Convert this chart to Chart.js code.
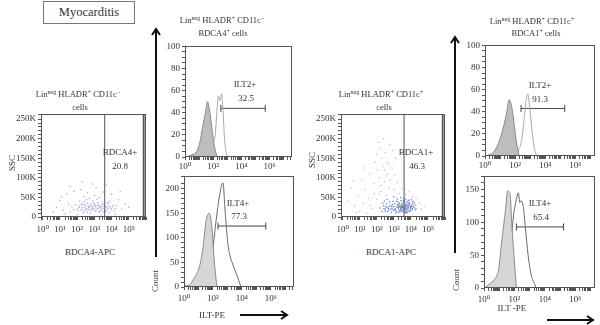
<!DOCTYPE html>
<html>
<head>
<meta charset="utf-8">
<script src="https://cdn.jsdelivr.net/npm/chart.js@4/dist/chart.umd.min.js"></script>
<style>
  body { margin: 0; background: #fff; }
  #fig { position: relative; width: 600px; height: 325px; overflow: hidden; background: #fff;
         font-family: 'Liberation Serif', 'DejaVu Serif', serif; color: #333; }
  .cv { position: absolute; }
  .t { position: absolute; white-space: nowrap; transform: translate(-50%, -50%);
       font-size: 9px; line-height: 1; color: #333; }
  .ttl { font-size: 8.5px; color: #333; will-change: transform; }
  .rot { transform: translate(-50%, -50%) rotate(-90deg); }
  sup { font-size: 6px; vertical-align: 3px; line-height: 0; color: #333; }
  #tag { position: absolute; left: 43px; top: 1px; width: 90px; height: 21px;
         border: 1px solid #777; font-size: 12.5px; text-align: center; line-height: 21px; }
</style>
</head>
<body>
<div id="fig">
  <div id="tag">Myocarditis</div>

  <div class="cv" id="w_bdca4"><canvas id="c_bdca4"></canvas></div>
  <div class="cv" id="w_bdca1"><canvas id="c_bdca1"></canvas></div>
  <div class="cv" id="w_m2"><canvas id="c_m2"></canvas></div>
  <div class="cv" id="w_m4"><canvas id="c_m4"></canvas></div>
  <div class="cv" id="w_r2"><canvas id="c_r2"></canvas></div>
  <div class="cv" id="w_r4"><canvas id="c_r4"></canvas></div>

  <!-- panel titles -->
  <div class="t ttl" style="left:78px;top:94px">Lin<sup>neg</sup> HLADR<sup>+</sup> CD11c<sup>−</sup></div>
  <div class="t ttl" style="left:80px;top:107px">cells</div>
  <div class="t ttl" style="left:381px;top:94px">Lin<sup>neg</sup> HLADR<sup>+</sup> CD11c<sup>+</sup></div>
  <div class="t ttl" style="left:384px;top:107px">cells</div>
  <div class="t ttl" style="left:222px;top:20px">Lin<sup>neg</sup> HLADR<sup>+</sup> CD11c<sup>−</sup></div>
  <div class="t ttl" style="left:223px;top:33px">BDCA4<sup>+</sup> cells</div>
  <div class="t ttl" style="left:532px;top:21px">Lin<sup>neg</sup> HLADR<sup>+</sup> CD11c<sup>+</sup></div>
  <div class="t ttl" style="left:536px;top:33px">BDCA1<sup>+</sup> cells</div>

  <!-- gate labels -->
  <div class="t" style="left:120px;top:152px">BDCA4+</div>
  <div class="t" style="left:120px;top:166px">20.8</div>
  <div class="t" style="left:416px;top:152px">BDCA1+</div>
  <div class="t" style="left:417px;top:166px">46.3</div>
  <div class="t" style="left:245px;top:84px">ILT2+</div>
  <div class="t" style="left:246px;top:98px">32.5</div>
  <div class="t" style="left:238px;top:203px">ILT4+</div>
  <div class="t" style="left:239px;top:216px">77.3</div>
  <div class="t" style="left:540px;top:85px">ILT2+</div>
  <div class="t" style="left:540px;top:99px">91.3</div>
  <div class="t" style="left:540px;top:203px">ILT4+</div>
  <div class="t" style="left:541px;top:217px">65.4</div>

  <!-- axis titles -->
  <div class="t rot" style="left:12px;top:163px">SSC</div>
  <div class="t rot" style="left:312px;top:160px">SSC</div>
  <div class="t" style="left:90px;top:252px">BDCA4-APC</div>
  <div class="t" style="left:391px;top:252px">BDCA1-APC</div>
  <div class="t rot" style="left:155px;top:281px">Count</div>
  <div class="t rot" style="left:456px;top:280px">Count</div>
  <div class="t" style="left:212px;top:315px">ILT-PE</div>
  <div class="t" style="left:512px;top:308px">ILT -PE</div>

  <svg width="600" height="325" style="position:absolute;left:0;top:0;pointer-events:none">
    <g stroke="#111" stroke-width="2" fill="none">
      <line x1="156" y1="257" x2="156" y2="30"/>
      <polyline points="152,35 156,29 160,35"/>
      <line x1="455" y1="253" x2="455" y2="38"/>
      <polyline points="451,43 455,37 459,43"/>
      <line x1="240" y1="315" x2="287" y2="315"/>
      <polyline points="281,311 287,315 281,319"/>
      <line x1="547" y1="320" x2="593" y2="320"/>
      <polyline points="587,316 593,320 587,324"/>
    </g>
  </svg>
</div>

<script>
// ---- DATA (x values are log10 of fluorescence, SSC in thousands) ----

// BDCA4-APC vs SSC events, Lin-neg HLADR+ CD11c- cells
const bdca4Events = [
  [2.0,22],[2.1,28],[2.2,18],[2.3,33],[2.3,25],[2.4,15],[2.4,38],[2.5,21],[2.5,29],[2.6,12],
  [2.6,35],[2.7,24],[2.7,19],[2.8,30],[2.8,16],[2.9,26],[2.9,41],[3.0,22],[3.0,33],[3.1,14],
  [3.1,28],[3.2,20],[3.2,37],[3.3,25],[3.3,11],[3.4,31],[3.4,18],[3.5,27],[3.5,22],[3.6,34],
  [3.7,24],[3.7,17],[3.8,29],[3.8,21],[3.9,26],[4.0,19],[4.1,30],[3.65,14],[3.75,37],[3.85,12],
  [1.9,31],[1.8,19],[1.7,26],[2.15,40],[2.35,10],[2.55,44],[2.65,27],[2.75,9],[2.85,21],[2.95,35],
  [3.05,17],[3.15,45],[3.25,29],[3.35,23],[3.45,39],[3.55,13],[2.05,16],[2.25,31],[2.45,24],[2.62,20],
  [2.78,33],[2.92,18],[3.08,26],[3.22,31],[3.38,16],[3.52,33],[3.68,27],[3.82,35],[3.95,23],[4.05,26],
  [4.2,21],[4.3,29],[4.15,15],[3.9,40],[2.7,48],[2.4,52],[3.0,55],[3.3,50],[1.6,13],[1.5,34],
  [2.12,24],[2.32,20],[2.52,17],[2.72,28],[2.88,23],[3.02,30],[3.18,22],[3.28,14],[3.42,26],[2.42,32],
  [1.2,18],[1.0,42],[0.8,24],[1.4,58],[1.8,66],[2.2,70],[2.6,62],[3.1,75],[3.5,64],[4.0,58],
  [4.4,44],[4.6,20],[4.8,33],[1.3,8],[2.0,6],[3.4,5],[4.2,7],[2.9,84],[2.3,90],[1.6,78],
  [3.7,82],[5.0,25],[0.6,12],[4.5,65],[1.1,52]
];

// BDCA1-APC vs SSC events, Lin-neg HLADR+ CD11c+ cells
const bdca1Events = [
  [2.9,22],[3.0,27],[3.1,18],[3.2,31],[3.3,24],[3.4,20],[3.5,28],[3.6,22],[3.7,26],[3.8,19],
  [3.9,30],[4.0,24],[3.05,34],[3.15,14],[3.25,38],[3.35,16],[3.45,33],[3.55,12],[3.65,36],[3.75,15],
  [3.85,34],[3.95,17],[4.05,31],[4.1,20],[2.8,30],[2.7,17],[2.6,25],[2.5,20],[2.4,29],[2.3,14],
  [2.2,23],[2.75,38],[2.85,12],[2.95,40],[3.12,10],[3.42,42],[3.62,41],[3.72,10],[3.88,43],[4.15,28],
  [4.2,36],[4.25,18],[3.52,17],[3.58,35],[3.68,18],[3.78,32],[3.48,24],[3.38,29],[3.28,19],[3.18,25],
  [3.08,21],[2.98,16],[2.88,26],[2.68,22],[2.58,33],[2.48,15],[3.66,28],[3.76,23],[3.86,25],[3.96,21],
  [4.06,27],[3.82,40],[3.92,37],[4.02,44],[4.12,40],[3.7,45],[3.6,48],[3.4,50],[3.2,46],[3.0,52],
  [2.6,45],[2.45,40],[2.35,35],[3.57,20],[3.63,25],[3.71,21],[3.74,29],[3.81,27],[3.67,32],[3.61,17],
  [3.69,13],[3.79,12],[3.89,14],[3.99,26],[4.08,22],[4.18,24],[4.28,30],[4.3,22],[3.22,28],[3.32,35],
  [3.36,13],[3.46,15],[3.54,38],[3.02,19],[2.92,31],[2.82,20],[2.72,27],[2.62,14],[2.52,26],[2.42,21],
  [3.9,33],[4.0,15],[4.1,35],[3.76,38],[3.84,20],[3.94,28],[3.64,11],[3.56,43],[3.16,40],[3.26,12]
];
const bdca1Hot = [
  [3.3,26],[3.4,23],[3.5,27],[3.45,21],[3.55,25],[3.35,29],[3.6,26],[3.25,23],[3.5,31],[3.42,18],
  [3.65,22],[3.3,32],[3.4,26],[3.48,24],[3.52,28],[3.45,25]
];
const bdca1Sparse = [
  [0.3,40],[0.5,75],[0.7,28],[0.9,55],[1.1,95],[1.2,35],[1.3,70],[1.5,48],[1.6,110],[1.7,22],
  [1.8,85],[1.9,140],[2.0,160],[2.05,120],[2.1,190],[2.15,100],[2.2,175],[2.25,65],[2.3,150],[2.35,130],
  [2.4,200],[2.45,90],[2.5,165],[2.55,55],[2.6,140],[2.65,110],[2.7,75],[2.75,185],[2.8,95],[2.9,125],
  [3.0,70],[3.1,150],[3.2,88],[3.3,60],[3.5,72],[3.7,58],[3.9,66],[4.1,52],[4.3,48],[4.5,35],
  [4.6,20],[4.8,28],[1.0,15],[1.4,10],[0.8,12],[2.0,45],[1.85,60],[2.25,80],[2.55,105],[2.95,170],
  [1.6,30],[2.7,135],[2.15,58],[1.25,125],[0.6,92],[2.45,120],[3.05,108]
];
const apcGate = [3.6, 5.85];        // gate borders (log10)

// ILT-PE histograms: [log10 ILT-PE, count]
const m2Iso  = [[0.1,0],[0.5,2],[0.83,5],[1.05,13],[1.24,26],[1.45,40],[1.6,50],[1.72,44],[1.87,30],[2.0,17],[2.15,6],[2.3,0]];
const m2Ilt  = [[0.2,0],[0.8,2],[1.3,6],[1.7,10],[2.0,13],[2.15,21],[2.28,44],[2.38,55],[2.48,51],[2.6,57],[2.7,42],[2.8,18],[2.9,6],[3.0,0]];
const m2Gate = [2.55, 5.7, 44];

const m4Iso  = [[0.1,0],[0.41,5],[0.62,14],[0.9,28],[1.1,45],[1.31,80],[1.52,134],[1.65,148],[1.74,150],[1.93,120],[2.07,60],[2.2,20],[2.28,0]];
const m4Ilt  = [[0.0,2],[0.6,4],[1.1,8],[1.45,15],[1.8,40],[2.0,80],[2.28,150],[2.48,190],[2.69,212],[2.85,150],[3.03,88],[3.17,65],[3.38,45],[3.6,28],[3.8,12],[3.93,0]];
const m4Gate = [2.35, 5.65, 124];

const r2Iso  = [[0.1,0],[0.65,5],[1.1,20],[1.42,38],[1.6,51],[1.75,46],[1.87,36],[2.06,15],[2.26,0]];
const r2Ilt  = [[1.5,0],[2.0,2],[2.26,6],[2.45,16],[2.6,34],[2.75,52],[2.84,56],[2.95,46],[3.1,26],[3.25,9],[3.42,0]];
const r2Gate = [2.39, 5.29, 43];

const r4Iso  = [[0.1,0],[0.19,3],[0.65,12],[0.97,30],[1.16,70],[1.42,120],[1.55,148],[1.65,146],[1.74,138],[1.82,100],[2.0,40],[2.13,0]];
const r4Ilt  = [[0.3,2],[0.97,10],[1.42,25],[1.74,60],[1.94,110],[2.13,135],[2.26,145],[2.36,130],[2.45,133],[2.58,124],[2.71,95],[2.9,50],[3.1,20],[3.35,5],[3.42,0]];
const r4Gate = [2.13, 5.23, 93];

// ---- helpers ----
const FONT = { family: "'Liberation Serif', 'DejaVu Serif', serif", size: 9 };
const INK = '#333';
const SUP = '⁰¹²³⁴⁵⁶⁷⁸⁹';
const pts = arr => arr.map(p => ({ x: p[0], y: p[1] }));

// decade + minor tick positions on a log10 axis
function logTicks(min, max) {
  const out = [];
  for (let n = Math.floor(min); n <= Math.ceil(max); n++) {
    for (let k = 1; k <= 9; k++) {
      const v = n + Math.log10(k);
      if (v >= min - 1e-9 && v <= max + 1e-9) out.push({ value: v });
    }
  }
  return out;
}

// put the wrapper so the chart area lands on the given box
function place(id, area, yw, xh, padTop, padRight) {
  const d = document.getElementById(id);
  d.style.left = (area[0] - yw) + 'px';
  d.style.top = (area[1] - padTop) + 'px';
  d.style.width = (yw + area[2] - area[0] + padRight) + 'px';
  d.style.height = (padTop + area[3] - area[1] + xh) + 'px';
}

const framePlugin = {
  id: 'frame',
  afterDraw(chart) {
    const a = chart.chartArea, ctx = chart.ctx;
    ctx.save();
    ctx.strokeStyle = '#555';
    ctx.lineWidth = 1;
    ctx.strokeRect(Math.round(a.left) + 0.5, Math.round(a.top) + 0.5,
                   Math.round(a.right - a.left) - 1, Math.round(a.bottom - a.top) - 1);
    ctx.restore();
  }
};

function xLogAxis(min, max, labelled, xh, pad) {
  return {
    type: 'linear', min, max,
    afterBuildTicks: s => { s.ticks = logTicks(min, max); },
    afterFit: s => { s.height = xh; },
    border: { display: false },
    grid: { drawOnChartArea: false, tickLength: 3, color: '#555' },
    ticks: {
      autoSkip: false, maxRotation: 0, padding: pad, font: FONT, color: INK,
      callback: v => {
        const r = Math.round(v);
        return Math.abs(v - r) < 1e-6 && labelled.includes(r) ? '10' + SUP[r] : '';
      }
    }
  };
}

function yAxis(max, step, major, yw, fmt) {
  return {
    min: 0, max,
    afterFit: s => { s.width = yw; },
    border: { display: false },
    grid: { drawOnChartArea: false, tickLength: 3, color: '#555' },
    ticks: {
      stepSize: step, autoSkip: false, padding: 2, font: FONT, color: INK,
      callback: v => (v % major === 0 ? fmt(v) : '')
    }
  };
}

const baseOpts = {
  responsive: true, maintainAspectRatio: false, animation: false,
  plugins: { legend: { display: false }, tooltip: { enabled: false } }
};

function gateSets(g) {
  return [{
    data: [{ x: g[0], y: g[2] }, { x: g[1], y: g[2] }],
    showLine: true, borderColor: '#444', borderWidth: 1,
    pointStyle: 'line', rotation: 90, pointRadius: 3.5,
    pointBorderColor: '#444', pointBorderWidth: 1
  }];
}

// ---- histograms ----
function histogram(key, area, xmax, ymax, step, major, iso, ilt, gate, isoFill, iltColor, xPad) {
  place('w_' + key, area, 25, 14, 6, 2);
  new Chart(document.getElementById('c_' + key), {
    type: 'scatter',
    data: {
      datasets: [
        { data: pts(iso), showLine: true, fill: 'origin', backgroundColor: isoFill,
          borderColor: '#8a8a8a', borderWidth: 1, pointRadius: 0, cubicInterpolationMode: 'monotone' },
        { data: pts(ilt), showLine: true, fill: false, borderColor: iltColor,
          borderWidth: 1, pointRadius: 0, cubicInterpolationMode: 'monotone' },
        ...gateSets(gate)
      ]
    },
    options: {
      ...baseOpts,
      layout: { padding: { top: 6, right: 2 } },
      scales: {
        x: xLogAxis(0, xmax, [0, 2, 4, 6], 14, xPad),
        y: yAxis(ymax, step, major, 25, v => String(v))
      }
    },
    plugins: [framePlugin]
  });
}

histogram('m2', [185, 45, 295, 157], 7.6, 100, 5, 20, m2Iso, m2Ilt, m2Gate, '#bdbdbd', '#a8a8a8', 1);
histogram('m4', [184, 175, 297, 287], 7.6, 225, 10, 50, m4Iso, m4Ilt, m4Gate, '#d6d6d6', '#6a6a6a', 3);
histogram('r2', [485, 44, 598, 156], 7.3, 100, 5, 20, r2Iso, r2Ilt, r2Gate, '#bdbdbd', '#a8a8a8', 1);
histogram('r4', [484, 175, 598, 288], 7.3, 170, 10, 50, r4Iso, r4Ilt, r4Gate, '#d6d6d6', '#6a6a6a', 3);

// ---- dot plots ----
function dotPlot(key, area, layers) {
  place('w_' + key, area, 41, 22, 6, 3);
  const g = apcGate;
  new Chart(document.getElementById('c_' + key), {
    type: 'scatter',
    data: {
      datasets: [
        ...layers.map(l => ({ data: pts(l[0]), backgroundColor: l[1], borderWidth: 0, pointRadius: 0.75 })),
        { data: [{ x: g[0], y: 0 }, { x: g[0], y: 262 }, { x: g[1], y: 262 }, { x: g[1], y: 0 }],
          showLine: true, borderColor: '#555', borderWidth: 1, pointRadius: 0 },
        { data: [{ x: 5.93, y: 0 }, { x: 5.93, y: 262 }],
          showLine: true, borderColor: '#999', borderWidth: 3, pointRadius: 0 }
      ]
    },
    options: {
      ...baseOpts,
      layout: { padding: { top: 6, right: 3 } },
      scales: {
        x: xLogAxis(-0.1, 6.0, [0, 1, 2, 3, 4, 5], 22, 4),
        y: yAxis(262, 10, 50, 41, v => (v === 0 ? '0' : v + 'K'))
      }
    },
    plugins: [framePlugin]
  });
}

dotPlot('bdca4', [41, 113, 147, 217], [
  [bdca4Events, 'rgba(120,120,210,0.65)']
]);
dotPlot('bdca1', [341, 113, 446, 217], [
  [bdca1Sparse, 'rgba(130,130,215,0.55)'],
  [bdca1Events, 'rgba(70,90,200,0.8)'],
  [bdca1Hot, 'rgba(80,170,80,0.9)']
]);
</script>
</body>
</html>
